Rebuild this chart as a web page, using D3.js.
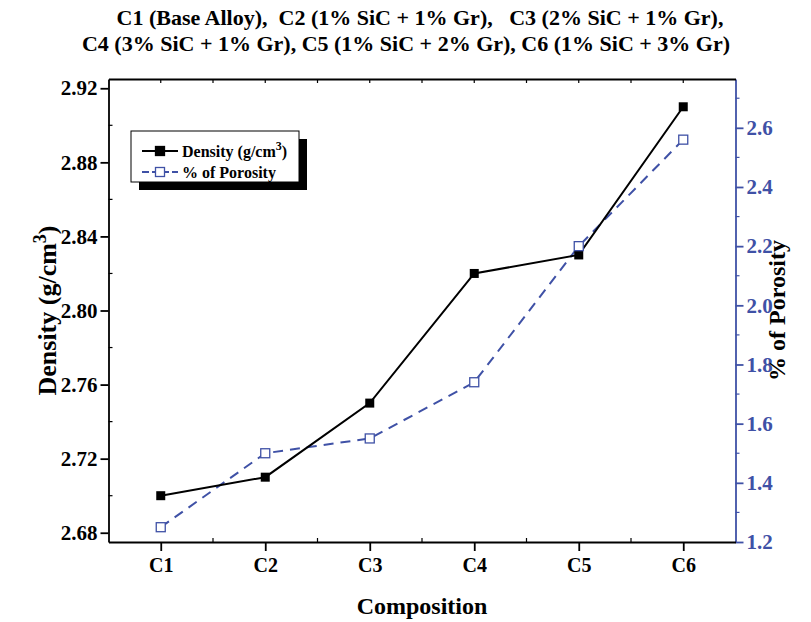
<!DOCTYPE html>
<html>
<head>
<meta charset="utf-8">
<script src="https://cdn.jsdelivr.net/npm/d3@7"></script>
<style>
  body { margin: 0; background: #fff; }
  text { font-family: "Liberation Serif", "Times New Roman", serif; font-weight: bold; }
</style>
</head>
<body>
<div id="chart"></div>
<script>
// data
const compositions = ["C1", "C2", "C3", "C4", "C5", "C6"];
const density = [2.70, 2.71, 2.75, 2.82, 2.83, 2.91];
const porosity = [1.25, 1.50, 1.55, 1.74, 2.20, 2.56];
const densityTicks = [2.68, 2.72, 2.76, 2.80, 2.84, 2.88, 2.92];
const porosityTicks = [1.2, 1.4, 1.6, 1.8, 2.0, 2.2, 2.4, 2.6];
const titleLines = [
  "C1 (Base Alloy),  C2 (1% SiC + 1% Gr),   C3 (2% SiC + 1% Gr),",
  "C4 (3% SiC + 1% Gr), C5 (1% SiC + 2% Gr), C6 (1% SiC + 3% Gr)"
];

const W = 811, H = 622;
const margin = { top: 79, right: 75.5, bottom: 80, left: 108.5 };
const width = W - margin.left - margin.right,
  height = H - margin.top - margin.bottom;
const blue = "#3f51a6";

const svg = d3
  .select("#chart")
  .append("svg")
  .attr("width", W)
  .attr("height", H);

const g = svg.append("g").attr("transform", `translate(${margin.left}, ${margin.top})`);

// scales
const x = d3.scalePoint().domain(compositions).range([0, width]).padding(0.5);
const yL = d3.scaleLinear().domain([2.675, 2.925]).range([height, 0]);
const yR = d3.scaleLinear().domain([1.2, 2.765]).range([height, 0]);

// midpoints between categories for minor ticks
const mids = compositions.slice(1).map((c, i) => (x(compositions[i]) + x(c)) / 2);

// minor ticks first so the axis lines sit on top
g.selectAll(".minL")
  .data(d3.range(2.70, 2.925, 0.04))
  .join("line")
  .attr("x1", 0).attr("x2", 4)
  .attr("y1", (d) => yL(d)).attr("y2", (d) => yL(d))
  .attr("stroke", "#000").attr("stroke-width", 1.2);

g.selectAll(".minR")
  .data(d3.range(1.3, 2.765, 0.2))
  .join("line")
  .attr("x1", width).attr("x2", width + 4)
  .attr("y1", (d) => yR(d)).attr("y2", (d) => yR(d))
  .attr("stroke", blue).attr("stroke-width", 1.2);

g.selectAll(".minB")
  .data(mids)
  .join("line")
  .attr("x1", (d) => d).attr("x2", (d) => d)
  .attr("y1", height).attr("y2", height - 4)
  .attr("stroke", "#000").attr("stroke-width", 1.2);

g.selectAll(".minT")
  .data(mids.concat(compositions.map((c) => x(c))))
  .join("line")
  .attr("x1", (d) => d).attr("x2", (d) => d)
  .attr("y1", 0).attr("y2", 4)
  .attr("stroke", "#000").attr("stroke-width", 1.2);

// axes
const axL = g.append("g")
  .call(d3.axisLeft(yL).tickValues(densityTicks).tickFormat(d3.format(".2f")).tickSize(8).tickPadding(3).tickSizeOuter(0));
const axR = g.append("g")
  .attr("transform", `translate(${width}, 0)`)
  .call(d3.axisRight(yR).tickValues(porosityTicks).tickFormat(d3.format(".1f")).tickSize(8).tickPadding(3).tickSizeOuter(0));
const axB = g.append("g")
  .attr("transform", `translate(0, ${height})`)
  .call(d3.axisBottom(x).tickSize(9).tickPadding(7).tickSizeOuter(0));
const axT = g.append("g")
  .call(d3.axisTop(x).tickSize(0).tickFormat("").tickSizeOuter(0));

[axL, axB, axT].forEach((a) => {
  a.selectAll("path, line").attr("stroke", "#000").attr("stroke-width", 1.8);
  a.selectAll("text").attr("fill", "#000").style("font-size", "21px");
});
axR.selectAll("path, line").attr("stroke", blue).attr("stroke-width", 1.8);
axR.selectAll("text").attr("fill", blue).style("font-size", "21px");
axB.selectAll("text").style("font-size", "20px");

// porosity line (dashed, blue, hollow squares)
const linePor = d3.line().x((d, i) => x(compositions[i])).y((d) => yR(d));
g.append("path")
  .datum(porosity)
  .attr("d", linePor)
  .attr("fill", "none")
  .attr("stroke", blue)
  .attr("stroke-width", 2)
  .attr("stroke-dasharray", "10,7");

// density line (solid, black, filled squares)
const lineDen = d3.line().x((d, i) => x(compositions[i])).y((d) => yL(d));
g.append("path")
  .datum(density)
  .attr("d", lineDen)
  .attr("fill", "none")
  .attr("stroke", "#000")
  .attr("stroke-width", 2);

const ms = 9;
g.selectAll(".ptD")
  .data(density)
  .join("rect")
  .attr("x", (d, i) => x(compositions[i]) - ms / 2)
  .attr("y", (d) => yL(d) - ms / 2)
  .attr("width", ms).attr("height", ms)
  .attr("fill", "#000");

g.selectAll(".ptP")
  .data(porosity)
  .join("rect")
  .attr("x", (d, i) => x(compositions[i]) - ms / 2)
  .attr("y", (d) => yR(d) - ms / 2)
  .attr("width", ms).attr("height", ms)
  .attr("fill", "#fff")
  .attr("stroke", blue)
  .attr("stroke-width", 1.3);

// axis titles
svg.append("text")
  .attr("transform", `translate(56, ${margin.top + height / 2}) rotate(-90)`)
  .attr("text-anchor", "middle")
  .style("font-size", "26px")
  .html('Density (g/cm<tspan dy="-10" font-size="18px">3</tspan><tspan dy="10">)</tspan>');

svg.append("text")
  .attr("transform", `translate(785, ${margin.top + height / 2}) rotate(-90)`)
  .attr("text-anchor", "middle")
  .style("font-size", "24px")
  .text("% of Porosity");

svg.append("text")
  .attr("x", margin.left + width / 2)
  .attr("y", 614)
  .attr("text-anchor", "middle")
  .style("font-size", "24px")
  .text("Composition");

// title
svg.selectAll(".title")
  .data(titleLines)
  .join("text")
  .attr("x", (d, i) => (i === 0 ? 420 : 406))
  .attr("y", (d, i) => 25 + i * 26)
  .attr("text-anchor", "middle")
  .style("font-size", "22px")
  .style("white-space", "pre")
  .attr("xml:space", "preserve")
  .text((d) => d);

// legend with drop shadow
const leg = svg.append("g").attr("transform", "translate(131, 131)");
leg.append("rect").attr("x", 8).attr("y", 8).attr("width", 168).attr("height", 51).attr("fill", "#000");
leg.append("rect").attr("width", 168).attr("height", 51).attr("fill", "#fff").attr("stroke", "#000").attr("stroke-width", 1);

const legItems = [
  { color: "#000", fill: "#000", dash: null },
  { color: blue, fill: "#fff", dash: "7,3" }
];
legItems.forEach((it, i) => {
  const cy = 20 + i * 21;
  leg.append("line")
    .attr("x1", 11).attr("x2", 47).attr("y1", cy).attr("y2", cy)
    .attr("stroke", it.color).attr("stroke-width", 2)
    .attr("stroke-dasharray", it.dash);
  leg.append("rect")
    .attr("x", 29 - 4.5).attr("y", cy - 4.5).attr("width", 9).attr("height", 9)
    .attr("fill", it.fill).attr("stroke", it.color).attr("stroke-width", 1.3);
});
leg.append("text").attr("x", 51).attr("y", 26).style("font-size", "16px")
  .html('Density (g/cm<tspan dy="-7" font-size="12px">3</tspan><tspan dy="7">)</tspan>');
leg.append("text").attr("x", 51).attr("y", 47).style("font-size", "16px")
  .text("% of Porosity");
</script>
</body>
</html>
